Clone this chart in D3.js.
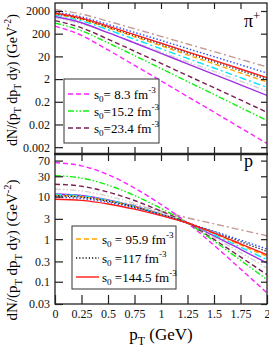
<!DOCTYPE html>
<html>
<head>
<meta charset="utf-8">
<script src="https://cdn.jsdelivr.net/npm/d3@7"></script>
<style>
  body { margin: 0; background: #fff; }
  svg { display: block; font-family: 'Liberation Serif', 'Times New Roman', serif; }
  .axis path { display: none; }
  .axis line { stroke: #222; stroke-width: 1.2; }
  .axis text { font-family: 'Liberation Serif', serif; font-size: 12px; fill: #111; }
</style>
</head>
<body>
<svg id="chart" width="269" height="349"></svg>
<script>
// transverse momentum grid (GeV)
const pT = [0, 0.25, 0.5, 0.75, 1, 1.25, 1.5, 1.75, 2]

// pi+ spectra
const pionS8 = [431, 168, 38.4, 8.07, 1.67, 0.339, 0.0703, 0.0142, 0.0029]
const pionS15 = [586, 269, 78.9, 21.6, 5.86, 1.56, 0.423, 0.112, 0.030]
const pionS23 = [757, 363, 115, 33.9, 9.93, 2.86, 0.836, 0.24, 0.069]
const pionGray = [977, 545, 218, 82.8, 31.2, 11.6, 4.37, 1.62, 0.60]
const pionPurple = [1138, 604, 224, 78.5, 27.3, 9.33, 3.25, 1.11, 0.38]
const pionCyan = [1324, 741, 298, 114, 43.4, 16.2, 6.17, 2.31, 0.863]
const pionS96 = [1466, 849, 361, 146, 58.9, 23.3, 9.4, 3.72, 1.48]
const pionS117 = [1531, 904, 395, 165, 68.5, 28.1, 11.6, 4.76, 1.95]
const pionS145 = [1622, 966, 429, 182, 76.6, 31.8, 13.4, 5.57, 2.32]
const pionBlue = [1799, 1104, 513, 228, 101, 44, 19.5, 8.49, 3.71]
const pionRosy = [2317, 1462, 710, 331, 153, 70.3, 32.6, 14.9, 6.84]

// proton spectra
const protonS8 = [62.7, 52.8, 32.7, 15.9, 6.53, 2.40, 0.718, 0.2, 0.0547]
const protonS15 = [31.0, 27.2, 18.6, 10.6, 5.26, 2.40, 0.904, 0.321, 0.112]
const protonS23 = [19.5, 17.5, 12.8, 8.09, 4.56, 2.40, 0.984, 0.382, 0.147]
const protonGray = [14.9, 13.6, 10.3, 6.92, 4.2, 2.4, 1.1, 0.485, 0.21]
const protonPurple = [11.5, 10.6, 8.39, 5.94, 3.88, 2.4, 1.2, 0.578, 0.275]
const protonCyan = [11.2, 10.4, 8.24, 5.87, 3.85, 2.4, 1.27, 0.652, 0.33]
const protonS96 = [10.7, 9.9, 7.94, 5.71, 3.8, 2.4, 1.35, 0.731, 0.394]
const protonS117 = [10.5, 9.7, 7.8, 5.64, 3.77, 2.4, 1.47, 0.873, 0.515]
const protonS145 = [8.69, 8.13, 6.71, 5.06, 3.56, 2.4, 1.39, 0.778, 0.431]
const protonBlue = [9.68, 9.0, 7.33, 5.38, 3.68, 2.4, 1.53, 0.95, 0.586]
const protonRosy = [10.5, 9.77, 8.13, 6.31, 4.57, 3.16, 2.29, 1.66, 1.2]

const xTicks = [0, 0.25, 0.5, 0.75, 1, 1.25, 1.5, 1.75, 2]
const pionTicks = [2000, 200, 20, 2, 0.2, 0.02, 0.002]
const protonTicks = [70, 30, 10, 3, 1, 0.3, 0.1, 0.03]

const legendTop = ['= 8.3', '=15.2', '=23.4']
const legendBottom = [' = 95.9', ' =117', ' =144.5']

// line styles, drawing order back to front
const styles = {
  rosy: { color: '#c49a96', dash: '7,3,2,3' },
  gray: { color: '#d2d2d2', dash: '6,2,1.5,2,1.5,2' },
  purple: { color: '#a030e0', dash: null },
  cyan: { color: '#00e8ff', dash: '7,3,2,3' },
  s23: { color: '#7a1f52', dash: '5,3' },
  s15: { color: '#10f010', dash: '6,2,1.5,2,1.5,2' },
  s8: { color: '#ff20ff', dash: '5,3' },
  s96: { color: '#ffa500', dash: '5,3' },
  s117: { color: '#111', dash: '1.2,2' },
  blue: { color: '#3050ff', dash: '1.5,2' },
  s145: { color: '#ff1a1a', dash: null }
}

const pionSeries = [
  ['rosy', pionRosy], ['gray', pionGray], ['purple', pionPurple], ['cyan', pionCyan],
  ['s23', pionS23], ['s15', pionS15], ['s8', pionS8], ['s96', pionS96],
  ['s117', pionS117], ['blue', pionBlue], ['s145', pionS145]
]
const protonSeries = [
  ['rosy', protonRosy], ['gray', protonGray], ['purple', protonPurple], ['cyan', protonCyan],
  ['s23', protonS23], ['s15', protonS15], ['s8', protonS8], ['s96', protonS96],
  ['s117', protonS117], ['blue', protonBlue], ['s145', protonS145]
]

const svg = d3.select('#chart')
const left = 55
const right = 267
const x = d3.scaleLinear([0, 2], [left, right])
const yTop = d3.scaleLog([0.001, 4500], [154, 3])
const yBot = d3.scaleLog([0.03, 100], [304, 154])

// text with sub/superscripts: parts = [[string, 'n' | 'sub' | 'sup']]
function richText (sel, parts, size) {
  let shift = 0
  parts.forEach(([str, kind]) => {
    let target = kind === 'sub' ? size * 0.3 : kind === 'sup' ? -size * 0.4 : 0
    sel.append('tspan')
      .attr('dy', target - shift)
      .style('font-size', (kind === 'n' ? size : size * 0.7) + 'px')
      .text(str)
    shift = target
  })
}

function drawPanel (series, y, ticks, y0, y1, id) {
  svg.append('clipPath').attr('id', id)
    .append('rect').attr('x', left).attr('y', y0).attr('width', right - left).attr('height', y1 - y0)

  let line = d3.line()
    .x((d, i) => x(pT[i]))
    .y(d => y(d))
    .curve(d3.curveMonotoneX)

  svg.append('g').attr('clip-path', `url(#${id})`)
    .selectAll('path')
    .data(series)
    .join('path')
    .attr('d', d => line(d[1]))
    .attr('fill', 'none')
    .attr('stroke', d => styles[d[0]].color)
    .attr('stroke-width', 1.4)
    .attr('stroke-dasharray', d => styles[d[0]].dash)

  svg.append('g')
    .attr('class', 'axis')
    .attr('transform', `translate(${left},0)`)
    .call(d3.axisLeft(y).tickValues(ticks).tickFormat(d => d).tickSize(-8).tickSizeOuter(0).tickPadding(5))

  svg.append('g')
    .attr('class', 'axis')
    .attr('transform', `translate(${right},0)`)
    .call(d3.axisRight(y).tickValues(ticks).tickFormat('').tickSize(-6).tickSizeOuter(0))

  // frame
  svg.append('rect')
    .attr('x', left).attr('y', y0).attr('width', right - left).attr('height', y1 - y0)
    .attr('fill', 'none').attr('stroke', '#222').attr('stroke-width', 1.3)
}

drawPanel(pionSeries, yTop, pionTicks, 3, 154, 'clipTop')
drawPanel(protonSeries, yBot, protonTicks, 154, 304, 'clipBot')

// x ticks: top of upper panel, both sides of the divider, bottom axis
svg.append('g').attr('class', 'axis').attr('transform', 'translate(0,3)')
  .call(d3.axisTop(x).tickValues(xTicks.slice(1, -1)).tickFormat('').tickSize(-6).tickSizeOuter(0))
svg.append('g').attr('class', 'axis').attr('transform', 'translate(0,154)')
  .call(d3.axisBottom(x).tickValues(xTicks.slice(1, -1)).tickFormat('').tickSize(-7).tickSizeOuter(0))
svg.append('g').attr('class', 'axis').attr('transform', 'translate(0,154)')
  .call(d3.axisTop(x).tickValues(xTicks.slice(1, -1)).tickFormat('').tickSize(-7).tickSizeOuter(0))
svg.append('g').attr('class', 'axis').attr('transform', 'translate(0,304)')
  .call(d3.axisBottom(x).tickValues(xTicks).tickFormat(d => d).tickSize(-9).tickSizeOuter(0).tickPadding(5))

svg.append('line')
  .attr('x1', left - 1).attr('x2', right + 1).attr('y1', 154).attr('y2', 154)
  .attr('stroke', '#222').attr('stroke-width', 2.6)

// panel labels
let piLabel = svg.append('text').attr('x', 244).attr('y', 27).style('font-size', '18px')
richText(piLabel, [['π', 'n'], ['+', 'sup']], 18)
svg.append('text').attr('x', 244).attr('y', 167).style('font-size', '18px').text('p')

// axis titles
let xTitle = svg.append('text').attr('x', 161).attr('y', 340).attr('text-anchor', 'middle')
richText(xTitle, [['p', 'n'], ['T', 'sub'], [' (GeV)', 'n']], 17)

let yParts = [['dN/(p', 'n'], ['T', 'sub'], [' dp', 'n'], ['T', 'sub'], [' dy) (GeV', 'n'], ['-2', 'sup'], [')', 'n']]
let yTitleTop = svg.append('text').attr('text-anchor', 'middle')
  .attr('transform', 'translate(17,80) rotate(-90)')
richText(yTitleTop, yParts, 14)
let yTitleBot = svg.append('text').attr('text-anchor', 'middle')
  .attr('transform', 'translate(17,250) rotate(-90)')
richText(yTitleBot, yParts, 15)

// legends
function legend (keys, labels, bx, by, bw, bh, rowY, lineX0, lineX1, textX) {
  svg.append('rect')
    .attr('x', bx).attr('y', by).attr('width', bw).attr('height', bh)
    .attr('fill', '#fff').attr('stroke', '#333').attr('stroke-width', 1)
  keys.forEach((k, i) => {
    let cy = rowY[i]
    svg.append('line')
      .attr('x1', lineX0).attr('x2', lineX1).attr('y1', cy).attr('y2', cy)
      .attr('stroke', styles[k].color).attr('stroke-width', 1.4)
      .attr('stroke-dasharray', styles[k].dash)
    let t = svg.append('text').attr('x', textX).attr('y', cy + 4.5)
    richText(t, [['s', 'n'], ['0', 'sub'], [labels[i] + ' fm', 'n'], ['-3', 'sup']], 13)
  })
}

legend(['s8', 's15', 's23'], legendTop, 64, 79, 95, 64, [94, 111, 128], 68, 90, 94)
legend(['s96', 's117', 's145'], legendBottom, 72, 226, 104, 63, [239, 258, 277], 76, 99, 102)
</script>
</body>
</html>
